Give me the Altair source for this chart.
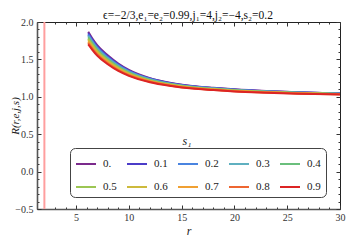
import altair as alt
import pandas as pd

SERIF = "Liberation Serif"

TITLE = ["ϵ=−2/3,e₁=e₂=0.99,j₁=4,j₂=−4,s₂=0.2"]

# radial coordinate samples
r_vals = [6.15, 6.5, 7, 8, 9, 10, 12, 14, 16, 18, 20, 23, 26, 30]

s1_labels = ["0.", "0.1", "0.2", "0.3", "0.4", "0.5", "0.6", "0.7", "0.8", "0.9"]

R_s00 = [1.870, 1.790, 1.690, 1.555, 1.445, 1.360, 1.250, 1.185, 1.145, 1.120, 1.100, 1.078, 1.062, 1.046]
R_s01 = [1.851, 1.773, 1.674, 1.542, 1.434, 1.351, 1.244, 1.181, 1.141, 1.117, 1.097, 1.075, 1.060, 1.044]
R_s02 = [1.832, 1.756, 1.659, 1.528, 1.423, 1.342, 1.238, 1.176, 1.137, 1.113, 1.094, 1.073, 1.058, 1.043]
R_s03 = [1.813, 1.738, 1.643, 1.515, 1.412, 1.333, 1.232, 1.172, 1.133, 1.110, 1.091, 1.070, 1.055, 1.041]
R_s04 = [1.794, 1.721, 1.628, 1.502, 1.401, 1.324, 1.226, 1.167, 1.129, 1.107, 1.088, 1.068, 1.053, 1.039]
R_s05 = [1.776, 1.704, 1.612, 1.488, 1.390, 1.316, 1.219, 1.163, 1.126, 1.103, 1.084, 1.065, 1.051, 1.038]
R_s06 = [1.757, 1.687, 1.597, 1.475, 1.379, 1.307, 1.213, 1.158, 1.122, 1.100, 1.081, 1.063, 1.049, 1.036]
R_s07 = [1.738, 1.669, 1.581, 1.462, 1.368, 1.298, 1.207, 1.154, 1.118, 1.097, 1.078, 1.060, 1.047, 1.034]
R_s08 = [1.719, 1.652, 1.566, 1.448, 1.357, 1.289, 1.201, 1.149, 1.114, 1.093, 1.075, 1.058, 1.044, 1.033]
R_s09 = [1.700, 1.635, 1.550, 1.435, 1.345, 1.280, 1.195, 1.145, 1.110, 1.090, 1.072, 1.055, 1.042, 1.031]

series = [R_s00, R_s01, R_s02, R_s03, R_s04, R_s05, R_s06, R_s07, R_s08, R_s09]

colors = ["#7B2A8C", "#4B3CC8", "#4A84E0", "#5FB0C0", "#6ABF7C",
          "#9CC653", "#CDBA3C", "#F0A032", "#EE6631", "#DC2424"]

marker_r = [2.0]

x_major = [5, 10, 15, 20, 25, 30]
x_minor = [2, 3, 4, 6, 7, 8, 9, 11, 12, 13, 14, 16, 17, 18, 19,
           21, 22, 23, 24, 26, 27, 28, 29]
y_major = [-0.5, 0.0, 0.5, 1.0, 1.5, 2.0]
y_minor = [-0.4, -0.3, -0.2, -0.1, 0.1, 0.2, 0.3, 0.4, 0.6, 0.7, 0.8, 0.9,
           1.1, 1.2, 1.3, 1.4, 1.6, 1.7, 1.8, 1.9]

legend_title = ["s₁"]

rows = []
for lab, vals in zip(s1_labels, series):
    for r, v in zip(r_vals, vals):
        rows.append({"r": r, "R": v, "s1": lab})
df = pd.DataFrame(rows)

xs = alt.Scale(domain=[1.3, 30], nice=False, zero=False)
ys = alt.Scale(domain=[-0.5, 2.0], nice=False, zero=False)

TICK = "#333333"


def tick_axis(orient, values, size, labels=False, **kw):
    return alt.Axis(orient=orient, values=values, tickSize=size, offset=-size,
                    domain=False, grid=False, labels=labels, tickColor=TICK,
                    tickWidth=1, labelFlush=False, **kw)


lines = alt.Chart(df).mark_line(strokeWidth=2, interpolate="monotone").encode(
    x=alt.X("r:Q", scale=xs,
            axis=tick_axis("bottom", x_major, 4, labels=True, format="d",
                           labelPadding=3, labelFont=SERIF, labelFontSize=10,
                           labelColor="#333333", title="r", titleFont=SERIF,
                           titleFontStyle="italic", titleFontWeight="normal",
                           titleFontSize=12, titlePadding=3, titleColor="#222222")),
    y=alt.Y("R:Q", scale=ys,
            axis=tick_axis("left", y_major, 4, labels=True, format=".1f",
                           labelPadding=4, labelFont=SERIF, labelFontSize=10,
                           labelColor="#333333", title="R(r,e,j,s)", titleFont=SERIF,
                           titleFontStyle="italic", titleFontWeight="normal",
                           titleFontSize=11, titleColor="#222222",
                           titleX=-26, titleBaseline="middle")),
    color=alt.Color("s1:N", scale=alt.Scale(domain=s1_labels, range=colors),
                    legend=alt.Legend(orient="none", legendX=33, legendY=126,
                                      direction="horizontal", columns=5, title=None,
                                      symbolType="stroke", symbolSize=400,
                                      symbolStrokeWidth=2, labelFont=SERIF,
                                      labelFontSize=11, labelColor="#222222",
                                      labelOffset=6, strokeColor="#444444",
                                      cornerRadius=5, padding=5, rowPadding=7,
                                      columnPadding=6, fillColor="white")),
)

vline = alt.Chart(pd.DataFrame({"r": marker_r})).mark_rule(
    color="#FF9F9F", strokeWidth=2).encode(x=alt.X("r:Q", scale=xs, axis=None))

ghost = alt.Chart(df).mark_point(opacity=0, size=1)

top_right_major = ghost.encode(
    x=alt.X("r:Q", scale=xs, axis=tick_axis("top", x_major, 4, title="")),
    y=alt.Y("R:Q", scale=ys, axis=tick_axis("right", y_major, 4, title="")),
)
bottom_left_minor = ghost.encode(
    x=alt.X("r:Q", scale=xs, axis=tick_axis("bottom", x_minor, 2, title="")),
    y=alt.Y("R:Q", scale=ys, axis=tick_axis("left", y_minor, 2, title="")),
)
top_right_minor = ghost.encode(
    x=alt.X("r:Q", scale=xs, axis=tick_axis("top", x_minor, 2, title="")),
    y=alt.Y("R:Q", scale=ys, axis=tick_axis("right", y_minor, 2, title="")),
)
frame_lb = ghost.encode(
    x=alt.X("r:Q", scale=xs, axis=alt.Axis(orient="bottom", ticks=False, labels=False,
                                           grid=False, domain=True, domainColor="#555555",
                                           domainWidth=1.6, title="")),
    y=alt.Y("R:Q", scale=ys, axis=alt.Axis(orient="left", ticks=False, labels=False,
                                           grid=False, domain=True, domainColor="#555555",
                                           domainWidth=1.6, title="")),
)

leg_title = alt.Chart(pd.DataFrame({"t": legend_title})).mark_text(
    font=SERIF, fontSize=12, fontStyle="italic", color="#222222",
    baseline="middle", align="center").encode(
    text="t:N", x=alt.value(150), y=alt.value(119))

plot_title = alt.Chart(pd.DataFrame({"t": TITLE})).mark_text(
    font=SERIF, fontSize=11.5, color="#111111",
    baseline="alphabetic", align="center").encode(
    text="t:N", x=alt.value(151), y=alt.value(-3.5))

chart = alt.layer(
    vline, lines, top_right_major, bottom_left_minor, top_right_minor, frame_lb,
    leg_title, plot_title
).resolve_axis(x="independent", y="independent").properties(
    width=303, height=187,
    autosize=alt.AutoSizeParams(type="none"),
    padding={"left": 29, "top": 14, "right": 10, "bottom": 32},
).configure_view(stroke="#222222", strokeWidth=1)

chart.save("out.html", embed_options={"renderer": "svg", "actions": False})
